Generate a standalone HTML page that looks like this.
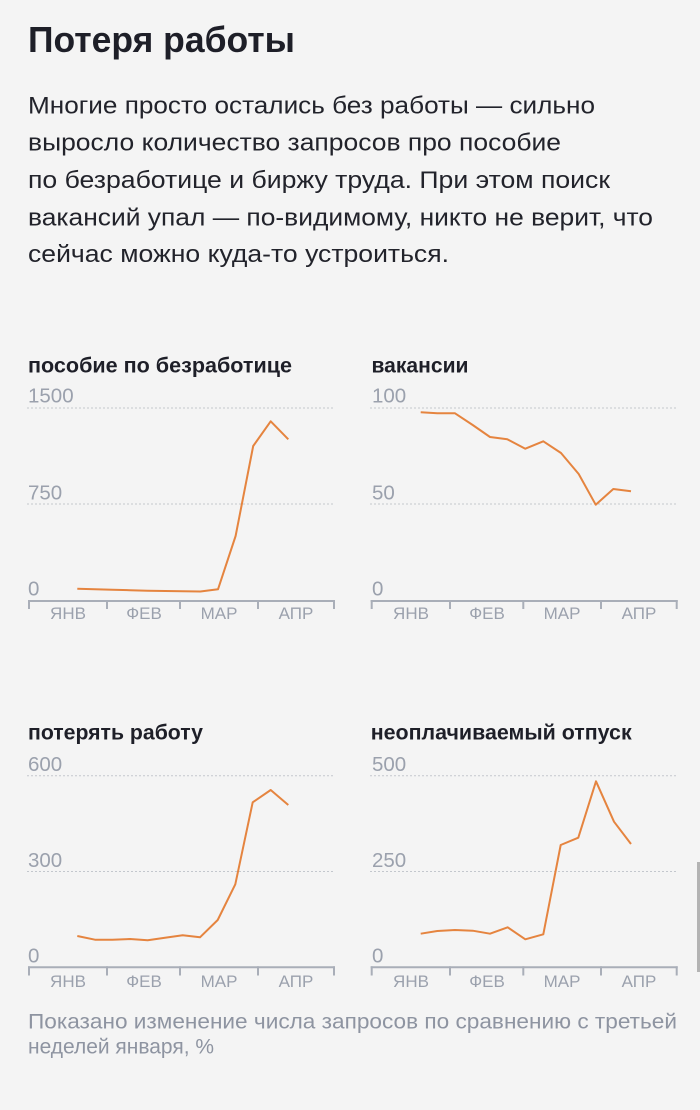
<!DOCTYPE html>
<html>
<head>
<meta charset="utf-8">
<style>
  html,body{margin:0;padding:0;background:#f4f4f4;}
  body{width:700px;height:1110px;overflow:hidden;}
  svg{display:block;}
  .t{font-family:"Liberation Sans","Noto Sans CJK SC",sans-serif;}
</style>
</head>
<body>
<svg width="700" height="1110" viewBox="0 0 700 1110" xmlns="http://www.w3.org/2000/svg">
  <rect x="0" y="0" width="700" height="1110" fill="#f4f4f4"/>

  <!-- Title -->
  <text class="t" x="28" y="52" font-size="36" font-weight="600" fill="#1e1f28" textLength="267" lengthAdjust="spacingAndGlyphs">Потеря работы</text>

  <!-- Paragraph -->
  <g class="t" font-size="24.5" fill="#22232b">
    <text x="28" y="113.3" textLength="567" lengthAdjust="spacingAndGlyphs">Многие просто остались без работы — сильно</text>
    <text x="28" y="150.7" textLength="533" lengthAdjust="spacingAndGlyphs">выросло количество запросов про пособие</text>
    <text x="28" y="188.2" textLength="582" lengthAdjust="spacingAndGlyphs">по безработице и биржу труда. При этом поиск</text>
    <text x="28" y="225.3" textLength="625" lengthAdjust="spacingAndGlyphs">вакансий упал — по-видимому, никто не верит, что</text>
    <text x="28" y="262" textLength="421" lengthAdjust="spacingAndGlyphs">сейчас можно куда-то устроиться.</text>
  </g>

  <!-- ===== Chart 1 ===== -->
  <text class="t" x="28" y="372.3" font-size="21.5" font-weight="bold" fill="#1e1f28" textLength="264" lengthAdjust="spacingAndGlyphs">пособие по безработице</text>
  <g stroke="#c3c7cd" stroke-width="1" stroke-dasharray="2 2">
    <line x1="27" y1="408" x2="334" y2="408"/>
    <line x1="27" y1="504" x2="334" y2="504"/>
  </g>
  <g class="t" font-size="20.5" fill="#9ba1ad">
    <text x="28" y="402.5">1500</text>
    <text x="28" y="499.3">750</text>
    <text x="28" y="595.5">0</text>
  </g>
  <g stroke="#a9aeb8" stroke-width="2" fill="none">
    <line x1="28" y1="601" x2="335" y2="601"/>
    <line x1="29" y1="600" x2="29" y2="609"/>
    <line x1="107" y1="600" x2="107" y2="609"/>
    <line x1="180" y1="600" x2="180" y2="609"/>
    <line x1="258" y1="600" x2="258" y2="609"/>
    <line x1="334" y1="600" x2="334" y2="609"/>
  </g>
  <g class="t" font-size="17" fill="#9ba1ad" text-anchor="middle">
    <text x="68" y="619">ЯНВ</text>
    <text x="144" y="619">ФЕВ</text>
    <text x="219" y="619">МАР</text>
    <text x="296" y="619">АПР</text>
  </g>
  <polyline fill="none" stroke="#e5843f" stroke-width="2" stroke-linejoin="round"
    points="77.3,588.7 94.9,589.2 112.5,589.7 130.1,590.2 147.7,590.7 165.2,591 182.8,591.2 200.4,591.5 218,589.3 235.6,536 253.2,446 270.7,421.3 288.3,439.3"/>

  <!-- ===== Chart 2 ===== -->
  <text class="t" x="371.5" y="372.3" font-size="21.5" font-weight="bold" fill="#1e1f28" textLength="97" lengthAdjust="spacingAndGlyphs">вакансии</text>
  <g stroke="#c3c7cd" stroke-width="1" stroke-dasharray="2 2">
    <line x1="370" y1="408" x2="677" y2="408"/>
    <line x1="370" y1="504" x2="677" y2="504"/>
  </g>
  <g class="t" font-size="20.5" fill="#9ba1ad">
    <text x="372" y="402.5">100</text>
    <text x="372" y="499.3">50</text>
    <text x="372" y="595.5">0</text>
  </g>
  <g stroke="#a9aeb8" stroke-width="2" fill="none">
    <line x1="370.7" y1="601" x2="677.7" y2="601"/>
    <line x1="371.7" y1="600" x2="371.7" y2="609"/>
    <line x1="450" y1="600" x2="450" y2="609"/>
    <line x1="523.3" y1="600" x2="523.3" y2="609"/>
    <line x1="601" y1="600" x2="601" y2="609"/>
    <line x1="676.7" y1="600" x2="676.7" y2="609"/>
  </g>
  <g class="t" font-size="17" fill="#9ba1ad" text-anchor="middle">
    <text x="411" y="619">ЯНВ</text>
    <text x="487" y="619">ФЕВ</text>
    <text x="562" y="619">МАР</text>
    <text x="639" y="619">АПР</text>
  </g>
  <polyline fill="none" stroke="#e5843f" stroke-width="2" stroke-linejoin="round"
    points="420.7,412.3 437.3,413.3 455,413.3 472.7,425 490,437 507.3,439.3 525.3,448.7 543.3,441.3 561,453 578.7,474 595.7,504.7 613.3,489 631,491.3"/>

  <!-- ===== Chart 3 ===== -->
  <text class="t" x="28" y="739.3" font-size="21.5" font-weight="bold" fill="#1e1f28" textLength="175" lengthAdjust="spacingAndGlyphs">потерять работу</text>
  <g stroke="#c3c7cd" stroke-width="1" stroke-dasharray="2 2">
    <line x1="27" y1="775.7" x2="334" y2="775.7"/>
    <line x1="27" y1="871.5" x2="334" y2="871.5"/>
  </g>
  <g class="t" font-size="20.5" fill="#9ba1ad">
    <text x="28" y="771">600</text>
    <text x="28" y="866.8">300</text>
    <text x="28" y="962.3">0</text>
  </g>
  <g stroke="#a9aeb8" stroke-width="2" fill="none">
    <line x1="28" y1="967.3" x2="335" y2="967.3"/>
    <line x1="29" y1="966.3" x2="29" y2="975.5"/>
    <line x1="107" y1="966.3" x2="107" y2="975.5"/>
    <line x1="180" y1="966.3" x2="180" y2="975.5"/>
    <line x1="258" y1="966.3" x2="258" y2="975.5"/>
    <line x1="334" y1="966.3" x2="334" y2="975.5"/>
  </g>
  <g class="t" font-size="17" fill="#9ba1ad" text-anchor="middle">
    <text x="68" y="987">ЯНВ</text>
    <text x="144" y="987">ФЕВ</text>
    <text x="219" y="987">МАР</text>
    <text x="296" y="987">АПР</text>
  </g>
  <polyline fill="none" stroke="#e5843f" stroke-width="2" stroke-linejoin="round"
    points="77.3,936 95,939.7 112.3,939.7 130,939 147.7,940.3 165,937.7 182.7,935.3 200,937.3 217.7,920 235.3,884.3 252.7,802.3 270.7,790 288.3,805"/>

  <!-- ===== Chart 4 ===== -->
  <text class="t" x="370.7" y="739.3" font-size="21.5" font-weight="bold" fill="#1e1f28" textLength="261" lengthAdjust="spacingAndGlyphs">неоплачиваемый отпуск</text>
  <g stroke="#c3c7cd" stroke-width="1" stroke-dasharray="2 2">
    <line x1="370" y1="775.7" x2="677" y2="775.7"/>
    <line x1="370" y1="871.5" x2="677" y2="871.5"/>
  </g>
  <g class="t" font-size="20.5" fill="#9ba1ad">
    <text x="372" y="771">500</text>
    <text x="372" y="866.8">250</text>
    <text x="372" y="962.3">0</text>
  </g>
  <g stroke="#a9aeb8" stroke-width="2" fill="none">
    <line x1="370.7" y1="967.3" x2="677.7" y2="967.3"/>
    <line x1="371.7" y1="966.3" x2="371.7" y2="975.5"/>
    <line x1="450" y1="966.3" x2="450" y2="975.5"/>
    <line x1="523.3" y1="966.3" x2="523.3" y2="975.5"/>
    <line x1="601" y1="966.3" x2="601" y2="975.5"/>
    <line x1="676.7" y1="966.3" x2="676.7" y2="975.5"/>
  </g>
  <g class="t" font-size="17" fill="#9ba1ad" text-anchor="middle">
    <text x="411" y="987">ЯНВ</text>
    <text x="487" y="987">ФЕВ</text>
    <text x="562" y="987">МАР</text>
    <text x="639" y="987">АПР</text>
  </g>
  <polyline fill="none" stroke="#e5843f" stroke-width="2" stroke-linejoin="round"
    points="420.7,933.7 437.3,931 455,930 472.7,930.7 490,933.7 507.7,927.3 525.3,939.3 543.3,934.3 560.7,845 578.3,837.7 596,781.3 614,821.7 631,844"/>

  <!-- Footnote -->
  <g class="t" font-size="21" fill="#8e94a1">
    <text x="28" y="1028.3" textLength="649" lengthAdjust="spacingAndGlyphs">Показано изменение числа запросов по сравнению с третьей</text>
    <text x="28" y="1053.3" textLength="186" lengthAdjust="spacingAndGlyphs">неделей января, %</text>
  </g>

  <!-- Scrollbar -->
  <rect x="697" y="862" width="3" height="110" fill="#b3b3b3"/>
</svg>
</body>
</html>
